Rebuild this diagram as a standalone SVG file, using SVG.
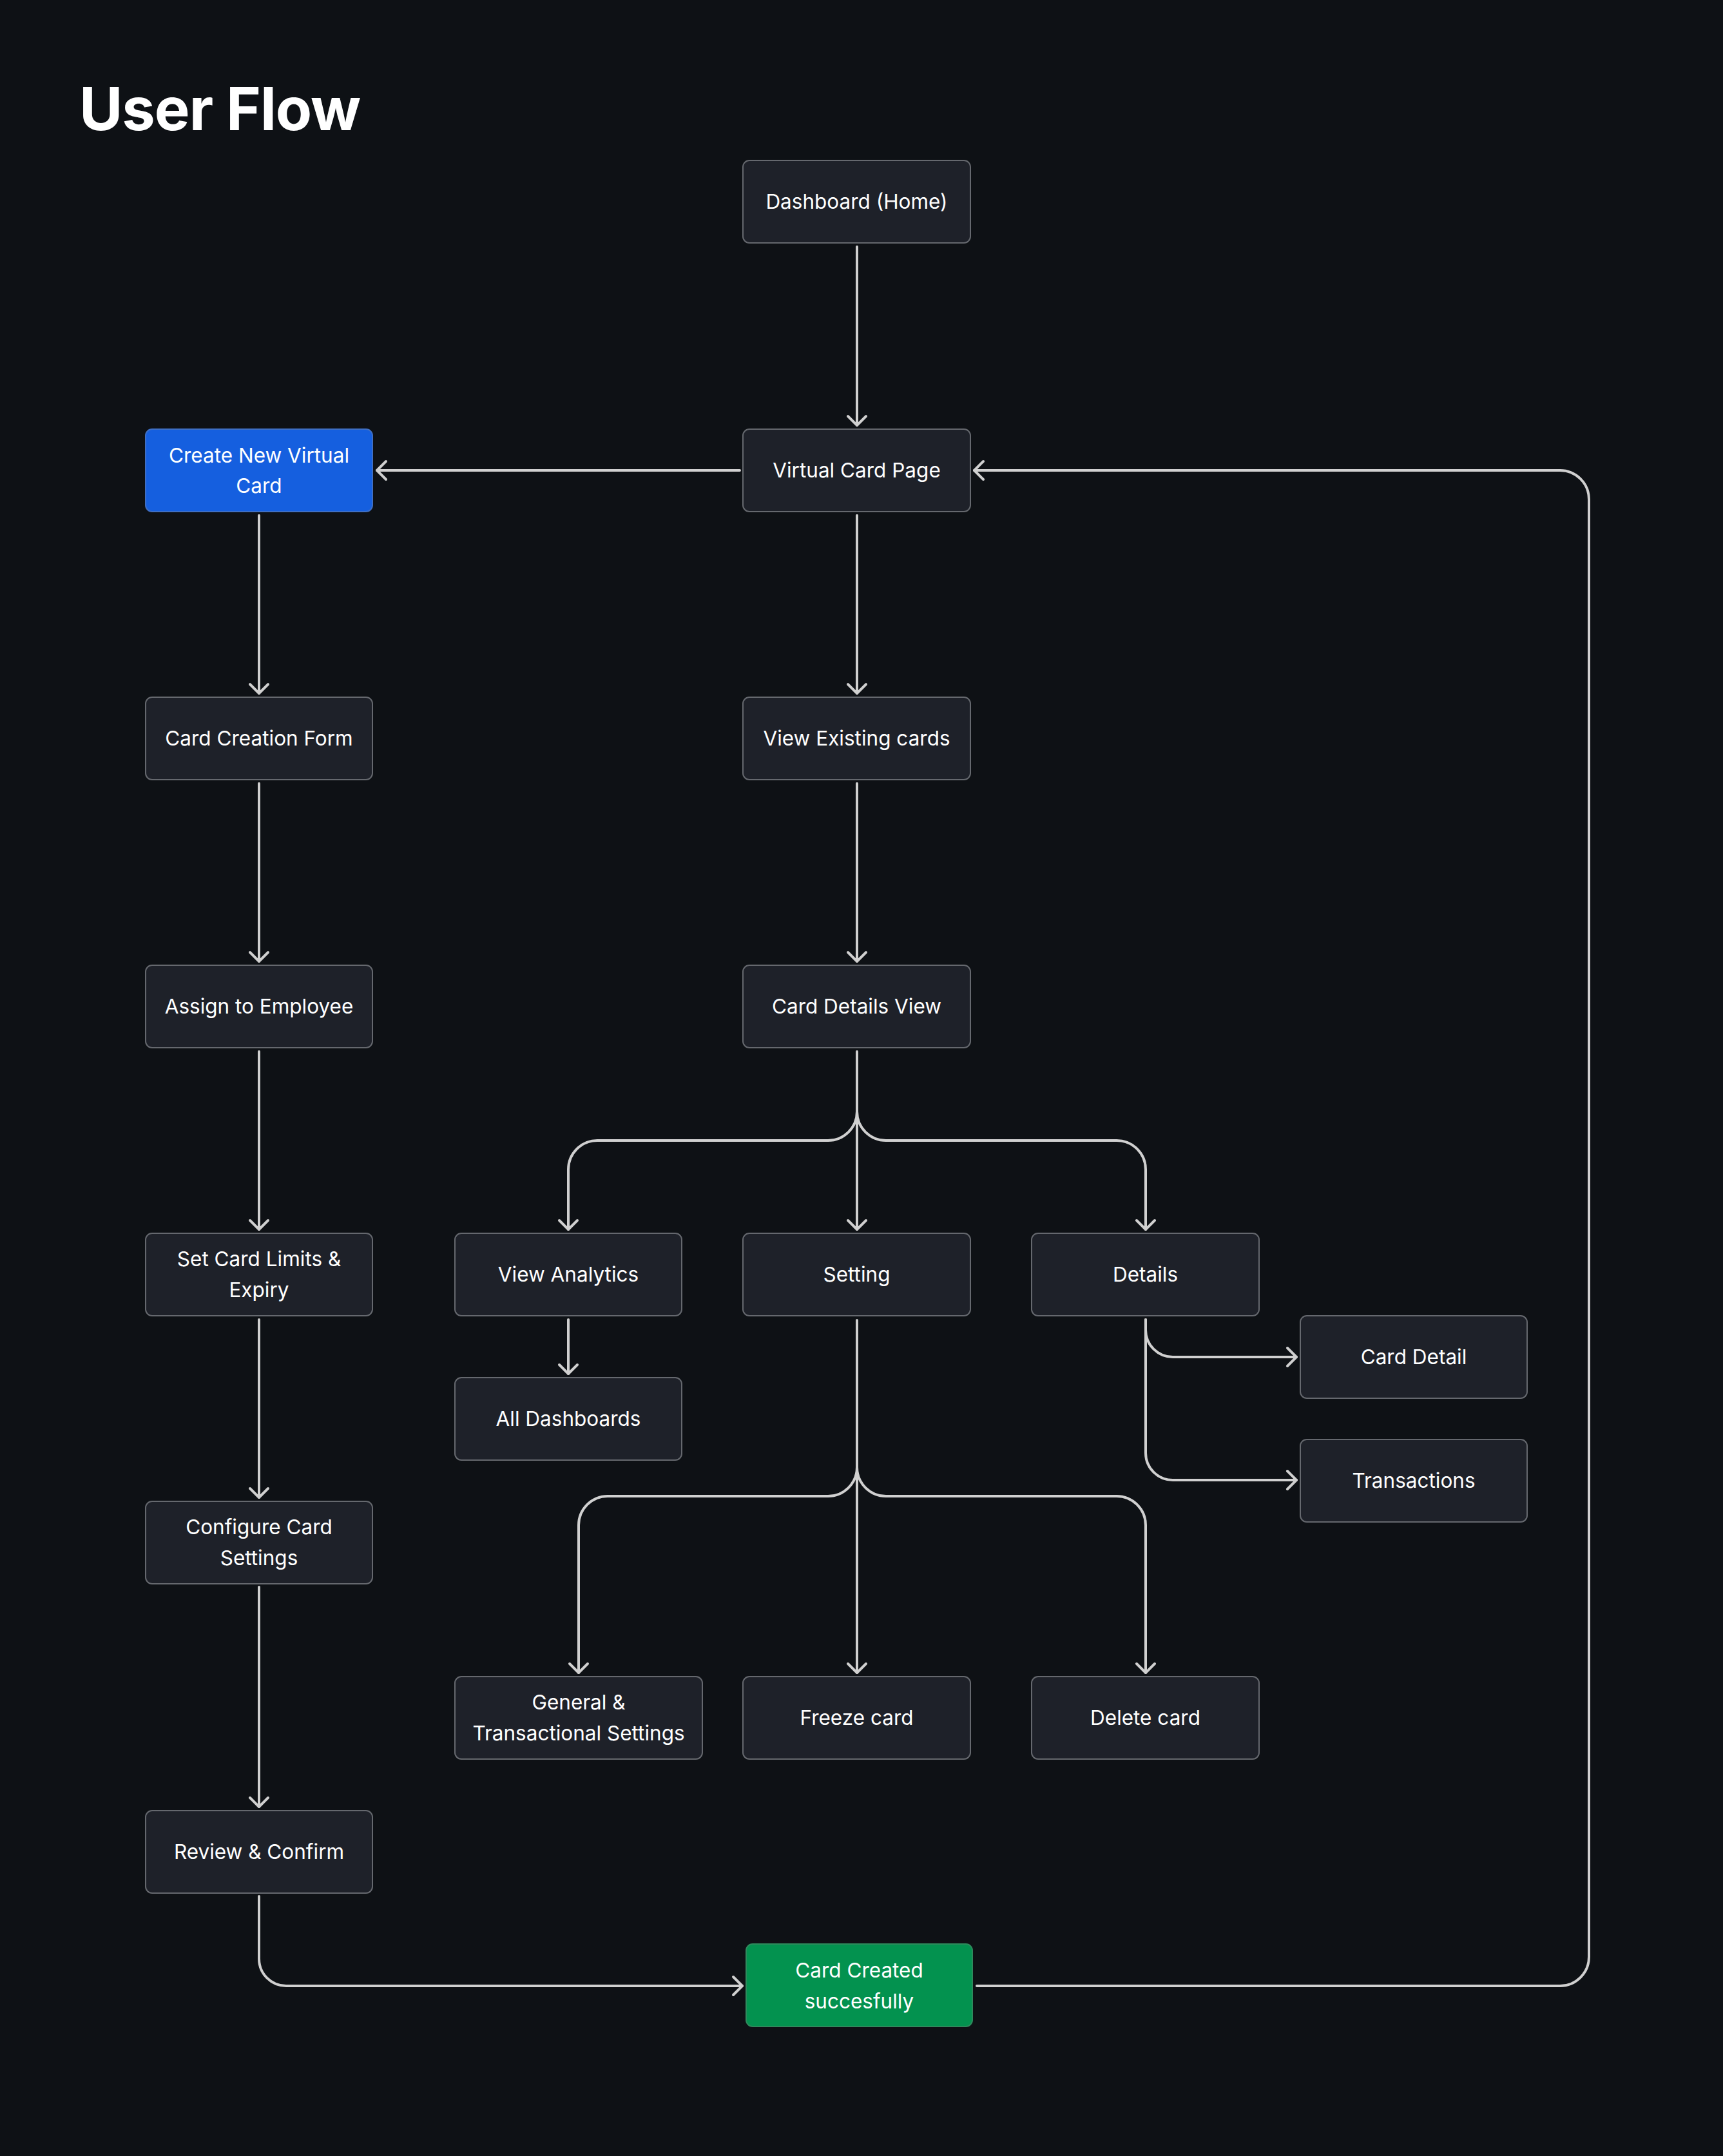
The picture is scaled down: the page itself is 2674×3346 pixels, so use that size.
<svg xmlns="http://www.w3.org/2000/svg" width="2674" height="3346" viewBox="0 0 2674 3346">
<defs>
<style>
.node rect{fill:#1e2129;stroke:#65686e;stroke-width:2}
.node.blue rect{fill:#155fdf;stroke:#3f6fc4}
.node.green rect{fill:#03924f;stroke:#2e8a5c}
.node text{font-family:Inter,"Noto Sans","Liberation Sans",sans-serif;font-size:31.5px;fill:#ffffff;text-anchor:middle}
.conn path{fill:none;stroke:#d0d0d0;stroke-width:4;stroke-linecap:round;stroke-linejoin:round}
.title{font-family:Inter,"Noto Sans","Liberation Sans",sans-serif;font-size:92px;font-weight:700;fill:#ffffff;letter-spacing:-1px}
</style>
<marker id="arr" markerUnits="userSpaceOnUse" markerWidth="40" markerHeight="40" refX="20" refY="20" orient="auto" viewBox="0 0 40 40">
<path d="M6,6 L20,20 L6,34" fill="none" stroke="#d0d0d0" stroke-width="4" stroke-linecap="round" stroke-linejoin="round"/>
</marker>
</defs>
<rect x="0" y="0" width="2674" height="3346" fill="#0e1115"/>
<text class="title" x="123" y="202">User Flow</text>

<g class="conn" id="connectors">
<path marker-end="url(#arr)" d="M1330,383 L1330,660"/>
<path marker-end="url(#arr)" d="M1148,730 L585,730"/>
<path marker-end="url(#arr)" d="M1330,800 L1330,1076"/>
<path marker-end="url(#arr)" d="M1330,1216 L1330,1492"/>
<path marker-end="url(#arr)" d="M402,800 L402,1076"/>
<path marker-end="url(#arr)" d="M402,1216 L402,1492"/>
<path marker-end="url(#arr)" d="M402,1632 L402,1908"/>
<path marker-end="url(#arr)" d="M402,2048 L402,2324"/>
<path marker-end="url(#arr)" d="M402,2463 L402,2804"/>
<path marker-end="url(#arr)" d="M1330,1632 L1330,1908"/>
<path marker-end="url(#arr)" d="M1330,1725 A45,45 0 0 1 1285,1770 L927,1770 A45,45 0 0 0 882,1815 L882,1908"/>
<path marker-end="url(#arr)" d="M1330,1725 A45,45 0 0 0 1375,1770 L1733,1770 A45,45 0 0 1 1778,1815 L1778,1908"/>
<path marker-end="url(#arr)" d="M882,2048 L882,2132"/>
<path marker-end="url(#arr)" d="M1778,2048 L1778,2064 A42,42 0 0 0 1820,2106 L2012,2106"/>
<path marker-end="url(#arr)" d="M1778,2048 L1778,2255 A42,42 0 0 0 1820,2297 L2012,2297"/>
<path marker-end="url(#arr)" d="M1330,2049 L1330,2596"/>
<path marker-end="url(#arr)" d="M1330,2277 A45,45 0 0 1 1285,2322 L943,2322 A45,45 0 0 0 898,2367 L898,2596"/>
<path marker-end="url(#arr)" d="M1330,2277 A45,45 0 0 0 1375,2322 L1733,2322 A45,45 0 0 1 1778,2367 L1778,2596"/>
<path marker-end="url(#arr)" d="M402,2943 L402,3040 A42,42 0 0 0 444,3082 L1152,3082"/>
<path marker-end="url(#arr)" d="M1516,3082 L2421,3082 A45,45 0 0 0 2466,3037 L2466,775 A45,45 0 0 0 2421,730 L1512,730"/>
</g>

<g class="node" id="n-dashboard"><rect x="1153" y="249" width="353" height="128" rx="10"/><text x="1329.5" y="324">Dashboard (Home)</text></g>
<g class="node" id="n-virtual-card-page"><rect x="1153" y="666" width="353" height="128" rx="10"/><text x="1329.5" y="741">Virtual Card Page</text></g>
<g class="node blue" id="n-create"><rect x="226" y="666" width="352" height="128" rx="10"/><text x="402" y="718">Create New Virtual</text><text x="402" y="765">Card</text></g>
<g class="node" id="n-card-creation-form"><rect x="226" y="1082" width="352" height="128" rx="10"/><text x="402" y="1157">Card Creation Form</text></g>
<g class="node" id="n-view-existing"><rect x="1153" y="1082" width="353" height="128" rx="10"/><text x="1329.5" y="1157">View Existing cards</text></g>
<g class="node" id="n-assign"><rect x="226" y="1498" width="352" height="128" rx="10"/><text x="402" y="1573">Assign to Employee</text></g>
<g class="node" id="n-card-details-view"><rect x="1153" y="1498" width="353" height="128" rx="10"/><text x="1329.5" y="1573">Card Details View</text></g>
<g class="node" id="n-set-limits"><rect x="226" y="1914" width="352" height="128" rx="10"/><text x="402" y="1965">Set Card Limits &amp;</text><text x="402" y="2013">Expiry</text></g>
<g class="node" id="n-view-analytics"><rect x="706" y="1914" width="352" height="128" rx="10"/><text x="882" y="1989">View Analytics</text></g>
<g class="node" id="n-setting"><rect x="1153" y="1914" width="353" height="128" rx="10"/><text x="1329.5" y="1989">Setting</text></g>
<g class="node" id="n-details"><rect x="1601" y="1914" width="353" height="128" rx="10"/><text x="1777.5" y="1989">Details</text></g>
<g class="node" id="n-all-dashboards"><rect x="706" y="2138" width="352" height="128" rx="10"/><text x="882" y="2213">All Dashboards</text></g>
<g class="node" id="n-card-detail"><rect x="2018" y="2042" width="352" height="128" rx="10"/><text x="2194" y="2117">Card Detail</text></g>
<g class="node" id="n-transactions"><rect x="2018" y="2234" width="352" height="128" rx="10"/><text x="2194" y="2309">Transactions</text></g>
<g class="node" id="n-configure"><rect x="226" y="2330" width="352" height="128" rx="10"/><text x="402" y="2381">Configure Card</text><text x="402" y="2429">Settings</text></g>
<g class="node" id="n-general"><rect x="706" y="2602" width="384" height="128" rx="10"/><text x="898" y="2653">General &amp;</text><text x="898" y="2701">Transactional Settings</text></g>
<g class="node" id="n-freeze"><rect x="1153" y="2602" width="353" height="128" rx="10"/><text x="1329.5" y="2677">Freeze card</text></g>
<g class="node" id="n-delete"><rect x="1601" y="2602" width="353" height="128" rx="10"/><text x="1777.5" y="2677">Delete card</text></g>
<g class="node" id="n-review"><rect x="226" y="2810" width="352" height="128" rx="10"/><text x="402" y="2885">Review &amp; Confirm</text></g>
<g class="node green" id="n-card-created"><rect x="1158" y="3017" width="351" height="128" rx="10"/><text x="1333.5" y="3069">Card Created</text><text x="1333.5" y="3117">succesfully</text></g>
</svg>
